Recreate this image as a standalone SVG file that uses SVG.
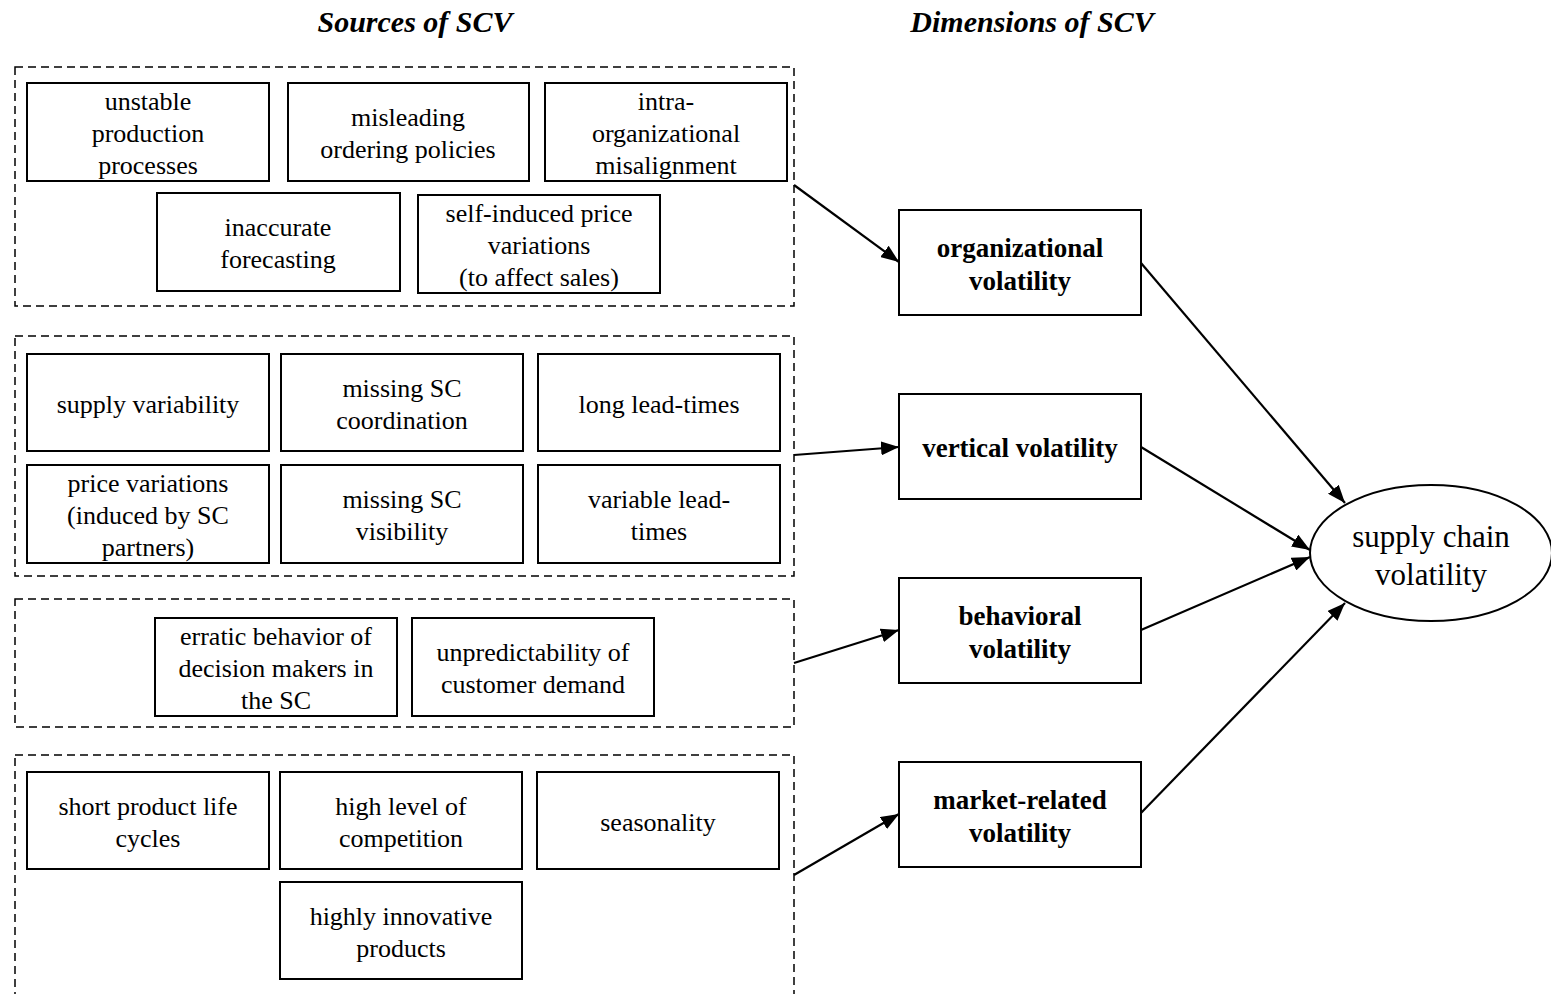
<svg xmlns="http://www.w3.org/2000/svg" width="1551" height="994" viewBox="0 0 1551 994">
  <defs>
    <marker id="arrow" markerWidth="18" markerHeight="14" refX="18" refY="7" orient="auto" markerUnits="userSpaceOnUse" viewBox="0 0 18 14">
      <path d="M0,0 L18,7 L0,14 Z" fill="#000"/>
    </marker>
    <style>
      .group { fill: none; stroke: #000; stroke-width: 1.5; stroke-dasharray: 8 5; }
      .box { fill: #fff; stroke: #000; stroke-width: 2; }
      .txt { font-size: 26px; text-anchor: middle; fill: #000; }
      .bold { font-weight: bold; font-size: 27px; }
      .head { font-size: 30px; font-weight: bold; font-style: italic; text-anchor: middle; }
      .big { font-size: 31px; text-anchor: middle; }
      .conn { stroke: #000; stroke-width: 2.2; fill: none; marker-end: url(#arrow); }
    </style>
  </defs>
  <rect width="1551" height="994" fill="#fff"/>

  <g font-family="'Liberation Serif', 'Times New Roman', serif">
  <text class="head" x="415" y="32">Sources of SCV</text>
  <text class="head" x="1032" y="32">Dimensions of SCV</text>

  <!-- source groups -->
  <rect class="group" x="15" y="67" width="779" height="239"/>
  <rect class="group" x="15" y="336" width="779" height="240"/>
  <rect class="group" x="15" y="599" width="779" height="128"/>
  <rect class="group" x="15" y="755" width="779" height="260"/>

  <!-- organizational sources -->
  <g id="unstable-production">
    <rect class="box" x="27" y="83" width="242" height="98"/>
    <text class="txt" x="148" y="110">unstable</text>
    <text class="txt" x="148" y="142">production</text>
    <text class="txt" x="148" y="174">processes</text>
  </g>
  <g id="misleading-ordering">
    <rect class="box" x="288" y="83" width="241" height="98"/>
    <text class="txt" x="408" y="126">misleading</text>
    <text class="txt" x="408" y="158">ordering policies</text>
  </g>
  <g id="intra-org">
    <rect class="box" x="545" y="83" width="242" height="98"/>
    <text class="txt" x="666" y="110">intra-</text>
    <text class="txt" x="666" y="142">organizational</text>
    <text class="txt" x="666" y="174">misalignment</text>
  </g>
  <g id="inaccurate-forecasting">
    <rect class="box" x="157" y="193" width="243" height="98"/>
    <text class="txt" x="278" y="236">inaccurate</text>
    <text class="txt" x="278" y="268">forecasting</text>
  </g>
  <g id="self-induced-price">
    <rect class="box" x="418" y="195" width="242" height="98"/>
    <text class="txt" x="539" y="222">self-induced price</text>
    <text class="txt" x="539" y="254">variations</text>
    <text class="txt" x="539" y="286">(to affect sales)</text>
  </g>

  <!-- vertical sources -->
  <g id="supply-variability">
    <rect class="box" x="27" y="354" width="242" height="97"/>
    <text class="txt" x="148" y="413">supply variability</text>
  </g>
  <g id="missing-coordination">
    <rect class="box" x="281" y="354" width="242" height="97"/>
    <text class="txt" x="402" y="397">missing SC</text>
    <text class="txt" x="402" y="429">coordination</text>
  </g>
  <g id="long-lead-times">
    <rect class="box" x="538" y="354" width="242" height="97"/>
    <text class="txt" x="659" y="413">long lead-times</text>
  </g>
  <g id="price-variations">
    <rect class="box" x="27" y="465" width="242" height="98"/>
    <text class="txt" x="148" y="492">price variations</text>
    <text class="txt" x="148" y="524">(induced by SC</text>
    <text class="txt" x="148" y="556">partners)</text>
  </g>
  <g id="missing-visibility">
    <rect class="box" x="281" y="465" width="242" height="98"/>
    <text class="txt" x="402" y="508">missing SC</text>
    <text class="txt" x="402" y="540">visibility</text>
  </g>
  <g id="variable-lead-times">
    <rect class="box" x="538" y="465" width="242" height="98"/>
    <text class="txt" x="659" y="508">variable lead-</text>
    <text class="txt" x="659" y="540">times</text>
  </g>

  <!-- behavioral sources -->
  <g id="erratic-behavior">
    <rect class="box" x="155" y="618" width="242" height="98"/>
    <text class="txt" x="276" y="645">erratic behavior of</text>
    <text class="txt" x="276" y="677">decision makers in</text>
    <text class="txt" x="276" y="709">the SC</text>
  </g>
  <g id="unpredictable-demand">
    <rect class="box" x="412" y="618" width="242" height="98"/>
    <text class="txt" x="533" y="661">unpredictability of</text>
    <text class="txt" x="533" y="693">customer demand</text>
  </g>

  <!-- market-related sources -->
  <g id="short-life-cycles">
    <rect class="box" x="27" y="772" width="242" height="97"/>
    <text class="txt" x="148" y="815">short product life</text>
    <text class="txt" x="148" y="847">cycles</text>
  </g>
  <g id="competition">
    <rect class="box" x="280" y="772" width="242" height="97"/>
    <text class="txt" x="401" y="815">high level of</text>
    <text class="txt" x="401" y="847">competition</text>
  </g>
  <g id="seasonality">
    <rect class="box" x="537" y="772" width="242" height="97"/>
    <text class="txt" x="658" y="831">seasonality</text>
  </g>
  <g id="innovative-products">
    <rect class="box" x="280" y="882" width="242" height="97"/>
    <text class="txt" x="401" y="925">highly innovative</text>
    <text class="txt" x="401" y="957">products</text>
  </g>

  <!-- dimensions -->
  <g id="organizational-volatility">
    <rect class="box" x="899" y="210" width="242" height="105"/>
    <text class="txt bold" x="1020" y="257">organizational</text>
    <text class="txt bold" x="1020" y="290">volatility</text>
  </g>
  <g id="vertical-volatility">
    <rect class="box" x="899" y="394" width="242" height="105"/>
    <text class="txt bold" x="1020" y="457">vertical volatility</text>
  </g>
  <g id="behavioral-volatility">
    <rect class="box" x="899" y="578" width="242" height="105"/>
    <text class="txt bold" x="1020" y="625">behavioral</text>
    <text class="txt bold" x="1020" y="658">volatility</text>
  </g>
  <g id="market-volatility">
    <rect class="box" x="899" y="762" width="242" height="105"/>
    <text class="txt bold" x="1020" y="809">market-related</text>
    <text class="txt bold" x="1020" y="842">volatility</text>
  </g>

  <g id="supply-chain-volatility">
    <ellipse cx="1431" cy="553" rx="121" ry="68" fill="#fff" stroke="#000" stroke-width="2"/>
    <text class="big" x="1431" y="547">supply chain</text>
    <text class="big" x="1431" y="585">volatility</text>
  </g>
  </g>

  <!-- connectors -->
  <g id="connectors">
    <line class="conn" x1="794" y1="185" x2="899" y2="262"/>
    <line class="conn" x1="794" y1="455" x2="899" y2="447"/>
    <line class="conn" x1="794" y1="663" x2="899" y2="630"/>
    <line class="conn" x1="794" y1="875" x2="899" y2="814"/>
    <line class="conn" x1="1141" y1="263" x2="1345" y2="503"/>
    <line class="conn" x1="1141" y1="447" x2="1310" y2="550"/>
    <line class="conn" x1="1141" y1="630" x2="1310" y2="557"/>
    <line class="conn" x1="1141" y1="813" x2="1345" y2="603"/>
  </g>
</svg>
